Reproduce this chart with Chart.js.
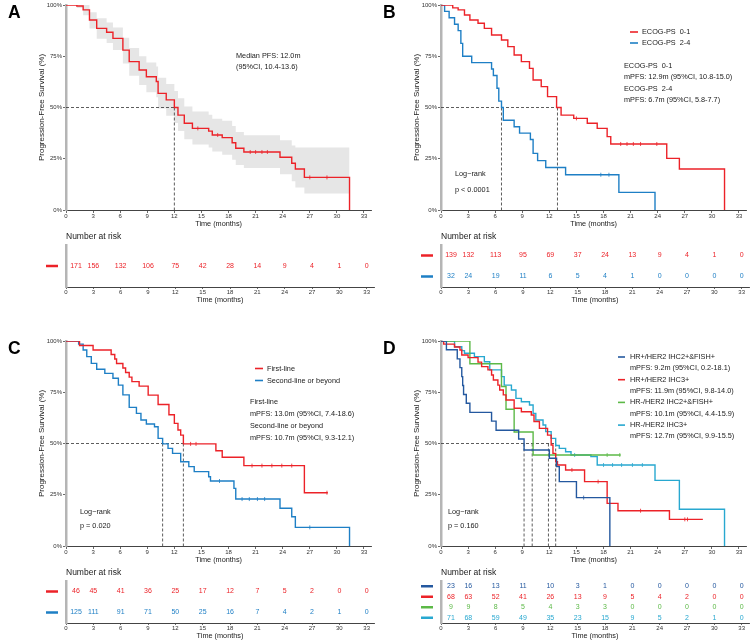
<!DOCTYPE html>
<html>
<head>
<meta charset="utf-8">
<script src="https://cdn.jsdelivr.net/npm/chart.js@4.4.1/dist/chart.umd.min.js"></script>
<style>
body { margin: 0; background: #fff; }
#page { position: relative; width: 753px; height: 642px; overflow: hidden; }
canvas { position: absolute; }
</style>
</head>
<body>
<div id="page"></div>
<script>
const TIME_TICKS = [0, 3, 6, 9, 12, 15, 18, 21, 24, 27, 30, 33];
const PCT_TICKS = [0, 25, 50, 75, 100];
const RISK_TITLE = 'Number at risk';

const RED = '#ec2228', BLUE = '#1e7fc5', NAVY = '#24589f', GREEN = '#5cb947', CYAN = '#28a8d0';

// ---- panel A: whole cohort
const timeA = [0, 1.2, 1.9, 2.6, 3.4, 4.5, 5.2, 6.3, 7.0, 8.1, 8.9, 10.0, 10.2, 11.1, 12.0, 12.4, 13.1, 14.0, 15.8, 16.2, 17.3, 18.4, 18.8, 19.7, 23.7, 25.0, 25.4, 26.4, 31.4];
const survA = [100, 99.5, 97.6, 92.7, 88.6, 86.7, 83.7, 78.0, 72.4, 68.3, 65.0, 62.7, 56.9, 53.7, 50.0, 46.3, 42.3, 39.8, 38.5, 36.6, 35.3, 32.8, 30.1, 28.3, 25.7, 22.8, 20.0, 15.9, 0];
const upperA = [100, 100, 100, 96.5, 93.5, 91.5, 89, 84, 79, 75, 72, 70, 64.5, 61.5, 58, 54.5, 50.5, 48, 46.5, 44.5, 43.5, 41, 38, 36.5, 34, 31.5, 30.5, 30.5, 30.5];
const lowerA = [100, 98.5, 95, 88.5, 83.5, 81.5, 78, 71.5, 65.5, 61, 57.5, 55, 49.5, 46, 42.5, 38.5, 34.5, 32, 30.5, 28.5, 27, 24.5, 22, 20.5, 17.5, 14, 11, 8, 8];
const censA = [14.6, 16.8, 20.4, 21.0, 21.7, 22.3, 27.0, 28.9];
const riskA = [171, 156, 132, 106, 75, 42, 28, 14, 9, 4, 1, 0];
const medianA = [12.0];
const notesA = ['Median PFS: 12.0m', '(95%CI, 10.4-13.6)'];

// ---- panel B: ECOG-PS
const timeB1 = [0, 1.3, 1.9, 2.6, 3.2, 4.1, 4.8, 5.6, 6.7, 7.4, 8.1, 8.9, 9.8, 10.2, 11.1, 11.8, 12.8, 13.3, 14.7, 16.2, 17.3, 18.4, 18.8, 25.0, 26.4, 31.4];
const survB1 = [100, 98.6, 97.6, 95.1, 92.7, 91.1, 88.6, 85.4, 82.9, 79.7, 75.6, 72.4, 69.1, 63.4, 60.2, 55.3, 50.0, 46.3, 44.7, 42.3, 39.8, 35.8, 32.2, 25.2, 20.0, 0];
const censB1 = [15.0, 19.9, 20.6, 21.3, 22.1, 23.9];
const timeB2 = [0, 0.4, 0.9, 1.5, 1.9, 2.2, 2.4, 3.4, 5.6, 5.8, 6.2, 6.4, 6.7, 6.9, 8.1, 8.7, 9.9, 10.2, 10.7, 11.6, 13.8, 19.7, 23.7];
const survB2 = [100, 96.9, 93.8, 90.6, 87.5, 81.3, 75.0, 71.9, 68.8, 65.6, 59.4, 53.1, 50.0, 43.8, 40.6, 37.5, 34.4, 27.6, 24.1, 20.7, 17.2, 8.6, 0];
const censB2 = [17.7, 18.6];
const riskB1 = [139, 132, 113, 95, 69, 37, 24, 13, 9, 4, 1, 0];
const riskB2 = [32, 24, 19, 11, 6, 5, 4, 1, 0, 0, 0, 0];
const medianB = [6.7, 12.9];
const groupsB = ['ECOG-PS  0-1', 'ECOG-PS  2-4'];
const notesB = ['ECOG-PS  0-1', 'mPFS: 12.9m (95%CI, 10.8-15.0)', 'ECOG-PS  2-4', 'mPFS: 6.7m (95%CI, 5.8-7.7)'];
const testB = ['Log\u2212rank', 'p < 0.0001'];

// ---- panel C: line of therapy
const timeC1 = [0, 1.5, 3.0, 5.0, 5.4, 5.6, 6.3, 6.6, 7.0, 7.3, 8.1, 9.1, 10.2, 11.4, 12.0, 12.4, 12.7, 13.0, 16.6, 17.3, 19.7, 26.4, 29.0];
const survC1 = [100, 97.8, 95.6, 93.4, 91.2, 89.0, 86.8, 84.6, 82.4, 80.2, 78.0, 73.6, 69.0, 64.0, 59.8, 56.6, 54.1, 49.8, 46.5, 43.3, 39.2, 26.0, 26.0];
const censC1 = [13.8, 14.4, 20.6, 21.7, 22.8, 23.9, 25.0, 28.9];
const timeC2 = [0, 1.4, 1.9, 2.3, 2.8, 3.4, 4.3, 5.2, 5.8, 6.3, 7.0, 7.8, 8.3, 8.9, 9.8, 10.2, 10.7, 11.3, 11.8, 12.7, 13.6, 14.2, 15.8, 16.0, 18.6, 18.8, 23.7, 25.0, 25.4, 31.4];
const survC2 = [100, 98.5, 95.6, 92.4, 89.1, 86.2, 84.2, 81.8, 78.5, 73.7, 67.6, 64.7, 61.5, 59.5, 58.2, 52.5, 49.8, 47.6, 45.2, 41.1, 38.7, 36.3, 33.8, 31.7, 28.1, 22.9, 18.4, 14.3, 9.1, 0];
const censC2 = [17.0, 19.5, 20.3, 21.2, 22.0, 27.0];
const riskC1 = [46, 45, 41, 36, 25, 17, 12, 7, 5, 2, 0, 0];
const riskC2 = [125, 111, 91, 71, 50, 25, 16, 7, 4, 2, 1, 0];
const medianC = [10.7, 13.0];
const groupsC = ['First-line', 'Second-line or beyond'];
const notesC = ['First-line', 'mPFS: 13.0m (95%CI, 7.4-18.6)', 'Second-line or beyond', 'mPFS: 10.7m (95%CI, 9.3-12.1)'];
const testC = ['Log\u2212rank', 'p = 0.020'];

// ---- panel D: HR / HER2 subtypes
const timeD1 = [0, 0.6, 1.8, 2.1, 2.3, 2.4, 2.5, 2.8, 3.2, 5.6, 6.1, 8.6, 9.2, 12.0, 12.8, 13.1, 15.0, 18.7];
const survD1 = [100, 95.7, 91.3, 87.0, 82.6, 78.3, 73.9, 69.6, 65.2, 60.9, 56.5, 52.2, 46.8, 42.8, 38.7, 31.4, 23.6, 0];
const censD1 = [15.8];
const timeD2 = [0, 0.3, 1.5, 2.1, 2.3, 3.0, 4.1, 4.5, 5.2, 5.6, 5.8, 6.3, 6.5, 6.9, 7.2, 8.1, 8.9, 10.0, 10.3, 10.9, 11.8, 12.2, 12.4, 12.7, 12.9, 13.8, 15.9, 18.4, 19.6, 25.3, 29.0];
const survD2 = [100, 98.5, 97.1, 95.6, 93.2, 91.9, 89.7, 87.5, 85.9, 83.4, 81.0, 78.5, 76.1, 73.7, 71.2, 67.2, 65.5, 63.9, 60.7, 57.4, 54.1, 49.3, 45.2, 41.1, 39.5, 37.1, 31.4, 20.8, 17.2, 13.0, 13.0];
const censD2 = [14.5, 17.4, 22.1, 27.0, 27.3];
const timeD3 = [0, 3.2, 6.7, 7.2, 8.1, 10.2, 19.9];
const survD3 = [100, 88.9, 77.8, 66.7, 55.6, 44.4, 44.4];
const censD3 = [18.4, 19.8];
const timeD4 = [0, 1.5, 2.3, 2.6, 3.7, 4.8, 5.4, 6.7, 7.0, 7.8, 8.3, 8.9, 9.8, 10.2, 10.5, 11.3, 11.6, 12.2, 12.7, 13.1, 13.8, 14.4, 16.6, 17.3, 23.7, 26.4, 31.4];
const survD4 = [100, 97.2, 95.3, 94.0, 92.4, 89.9, 85.9, 82.6, 78.5, 76.1, 72.0, 70.4, 68.8, 64.7, 61.5, 59.0, 55.8, 52.5, 49.0, 47.6, 46.0, 44.4, 43.6, 39.5, 32.0, 17.9, 0];
const censD4 = [14.8, 18.0, 19.0, 20.0, 21.2, 22.3];
const riskD1 = [23, 16, 13, 11, 10, 3, 1, 0, 0, 0, 0, 0];
const riskD2 = [68, 63, 52, 41, 26, 13, 9, 5, 4, 2, 0, 0];
const riskD3 = [9, 9, 8, 5, 4, 3, 3, 0, 0, 0, 0, 0];
const riskD4 = [71, 68, 59, 49, 35, 23, 15, 9, 5, 2, 1, 0];
const medianD = [9.2, 10.1, 11.9, 12.7];
const legendD = ['HR+/HER2 IHC2+&FISH+', 'mPFS: 9.2m (95%CI, 0.2-18.1)', 'HR+/HER2 IHC3+', 'mPFS: 11.9m (95%CI, 9.8-14.0)',
                 'HR-/HER2 IHC2+&FISH+', 'mPFS: 10.1m (95%CI, 4.4-15.9)', 'HR-/HER2 IHC3+', 'mPFS: 12.7m (95%CI, 9.9-15.5)'];
const testD = ['Log\u2212rank', 'p = 0.160'];

const FONT = '"Liberation Sans", Arial, sans-serif';
Chart.defaults.font.family = FONT;
const page = document.getElementById('page');

function addCanvas(x, y, w, h) {
    const c = document.createElement('canvas');
    c.width = w; c.height = h;
    c.style.left = x + 'px'; c.style.top = y + 'px';
    c.style.width = w + 'px'; c.style.height = h + 'px';
    page.appendChild(c);
    return c;
}

function survAt(c, t) {
    let v = c.s[0];
    c.t.forEach((tt, i) => { if (tt <= t) v = c.s[i]; });
    return v;
}

// free text, legend keys and panel letter
const textLayer = {
    id: 'textLayer',
    afterDraw(chart, args, opts) {
        const ctx = chart.ctx;
        ctx.save();
        (opts.keys || []).forEach(k => {
            ctx.strokeStyle = k.color; ctx.lineWidth = 1.6;
            ctx.beginPath(); ctx.moveTo(k.x1, k.y); ctx.lineTo(k.x2, k.y); ctx.stroke();
        });
        (opts.lines || []).forEach(l => {
            ctx.font = (l.bold ? 'bold ' : '') + (l.size || 7.3) + 'px ' + FONT;
            ctx.fillStyle = l.color || '#1a1a1a';
            ctx.textAlign = 'left';
            ctx.textBaseline = l.base || 'middle';
            ctx.fillText(l.text, l.x, l.y);
        });
        ctx.restore();
    }
};

// numbers at risk drawn on the points of the risk chart
const riskText = {
    id: 'riskText',
    afterDraw(chart) {
        const { ctx, chartArea } = chart;
        ctx.save();
        ctx.font = '8.5px ' + FONT;
        ctx.fillStyle = '#1a1a1a';
        ctx.textAlign = 'left'; ctx.textBaseline = 'middle';
        ctx.fillText(RISK_TITLE, chartArea.left, chartArea.top - 8);
        chart.data.datasets.forEach((d, i) => {
            const meta = chart.getDatasetMeta(i);
            const y = meta.data[0].y;
            ctx.strokeStyle = d.color; ctx.lineWidth = 2.5;
            ctx.beginPath(); ctx.moveTo(chartArea.left - 20, y); ctx.lineTo(chartArea.left - 8, y); ctx.stroke();
            ctx.font = '7px ' + FONT;
            ctx.fillStyle = d.color;
            ctx.textAlign = 'center';
            meta.data.forEach((el, j) => {
                const x = Math.max(el.x, chartArea.left + 10);
                ctx.fillText(String(d.counts[j]), x, el.y);
            });
        });
        ctx.restore();
    }
};

function xAxis(h, tickLen, pad) {
    return {
        type: 'linear', min: 0, max: 33.8,
        afterBuildTicks: s => { s.ticks = TIME_TICKS.map(v => ({ value: v })); },
        afterFit: s => { s.height = h; },
        grid: { display: true, drawOnChartArea: false, drawTicks: true, tickLength: tickLen, color: '#444', lineWidth: 0.8 },
        border: { display: true, color: '#444', width: 1 },
        ticks: { font: { size: 6 }, color: '#333', padding: pad, maxRotation: 0, autoSkip: false },
        title: { display: true, text: 'Time (months)', font: { size: 7.3 }, color: '#1a1a1a', padding: 0 }
    };
}

function drawKM(p) {
    const cv = addCanvas(p.left, p.top, 376, 228);
    const ds = [];
    p.curves.forEach(c => {
        ds.push({ data: c.t.map((t, i) => ({ x: t, y: c.s[i] })), borderColor: c.color, borderWidth: 1.4,
                  stepped: true, pointRadius: 0, fill: false, order: 0 });
        ds.push({ data: c.cens.map(t => ({ x: t, y: survAt(c, t) })), showLine: false, pointStyle: 'line',
                  rotation: 90, pointRadius: 2, borderColor: c.color, pointBorderColor: c.color,
                  pointBorderWidth: 0.8, fill: false, order: 0 });
    });
    const last = Math.max(...p.medians);
    const dash = { borderColor: '#333', borderWidth: 0.8, borderDash: [3, 2], pointRadius: 0, fill: false, order: 1 };
    ds.push(Object.assign({ data: [{ x: 0, y: 50 }, { x: last, y: 50 }] }, dash));
    p.medians.forEach(m => ds.push(Object.assign({ data: [{ x: m, y: 50 }, { x: m, y: 0 }] }, dash)));
    if (p.band) {
        ds.push({ data: p.band.t.map((t, i) => ({ x: t, y: p.band.up[i] })), stepped: true, borderWidth: 0,
                  borderColor: 'rgba(0,0,0,0)', pointRadius: 0, backgroundColor: '#e6e6e6', fill: '+1', order: 2 });
        ds.push({ data: p.band.t.map((t, i) => ({ x: t, y: p.band.lo[i] })), stepped: true, borderWidth: 0,
                  borderColor: 'rgba(0,0,0,0)', pointRadius: 0, fill: false, order: 2 });
    }
    new Chart(cv, {
        type: 'line',
        data: { datasets: ds },
        options: {
            responsive: false, animation: false,
            layout: { padding: { left: 37, top: 5, right: 2, bottom: 0 } },
            scales: {
                x: xAxis(18, 3, 0),
                y: {
                    min: 0, max: 100,
                    afterBuildTicks: s => { s.ticks = PCT_TICKS.map(v => ({ value: v })); },
                    afterFit: s => { s.width = 29; },
                    grid: { display: true, drawOnChartArea: false, tickLength: 3, color: '#444', lineWidth: 0.8 },
                    border: { display: true, color: '#b5b5b5', width: 2.5 },
                    ticks: { font: { size: 6 }, color: '#333', padding: 1, callback: v => v + '%' },
                    title: { display: true, text: 'Progression-Free Survival (%)', font: { size: 8 }, color: '#1a1a1a', padding: 0 }
                }
            },
            plugins: { legend: { display: false }, tooltip: { enabled: false }, textLayer: p.text }
        },
        plugins: [textLayer]
    });
}

function drawRisk(p) {
    const cv = addCanvas(p.left, p.top + 228, 376, 76);
    const rows = p.risk.length;
    const ds = p.risk.map((r, i) => ({
        data: TIME_TICKS.map(t => ({ x: t, y: i })), counts: r.n, color: r.color,
        showLine: false, pointRadius: 0
    }));
    new Chart(cv, {
        type: 'line',
        data: { datasets: ds },
        options: {
            responsive: false, animation: false,
            layout: { padding: { left: 46, top: 17, right: 2, bottom: 0 } },
            scales: {
                x: xAxis(17, 2, 0),
                y: {
                    type: 'linear', min: -0.5, max: rows - 0.5, reverse: true,
                    afterFit: s => { s.width = 20; },
                    ticks: { display: false }, grid: { display: false },
                    border: { display: true, color: '#b5b5b5', width: 2.5 }
                }
            },
            plugins: { legend: { display: false }, tooltip: { enabled: false } }
        },
        plugins: [riskText]
    });
}

function letter(ch) { return { text: ch, x: 8, y: 18, size: 17.5, bold: true, base: 'alphabetic', color: '#000' }; }
function block(lines, x, y0, step) { return lines.map((t, i) => ({ text: t, x: x, y: y0 + i * step })); }

const panels = [
    {
        left: 0, top: 0,
        curves: [{ t: timeA, s: survA, cens: censA, color: RED }],
        band: { t: timeA, up: upperA, lo: lowerA },
        medians: medianA,
        risk: [{ n: riskA, color: RED }],
        text: { lines: [letter('A')].concat(block(notesA, 236, 56, 11)) }
    },
    {
        left: 375, top: 0,
        curves: [{ t: timeB1, s: survB1, cens: censB1, color: RED }, { t: timeB2, s: survB2, cens: censB2, color: BLUE }],
        medians: medianB,
        risk: [{ n: riskB1, color: RED }, { n: riskB2, color: BLUE }],
        text: {
            keys: [{ x1: 255, x2: 263, y: 32, color: RED }, { x1: 255, x2: 263, y: 43, color: BLUE }],
            lines: [letter('B')].concat(block(groupsB, 267, 32, 11), block(notesB, 249, 66, 11.4), block(testB, 80, 174, 16))
        }
    },
    {
        left: 0, top: 336,
        curves: [{ t: timeC1, s: survC1, cens: censC1, color: RED }, { t: timeC2, s: survC2, cens: censC2, color: BLUE }],
        medians: medianC,
        risk: [{ n: riskC1, color: RED }, { n: riskC2, color: BLUE }],
        text: {
            keys: [{ x1: 255, x2: 263, y: 32.5, color: RED }, { x1: 255, x2: 263, y: 44.5, color: BLUE }],
            lines: [letter('C')].concat(block(groupsC, 267, 32.5, 12), block(notesC, 250, 66, 12), block(testC, 80, 176, 14))
        }
    },
    {
        left: 375, top: 336,
        curves: [{ t: timeD1, s: survD1, cens: censD1, color: NAVY }, { t: timeD2, s: survD2, cens: censD2, color: RED },
                 { t: timeD3, s: survD3, cens: censD3, color: GREEN }, { t: timeD4, s: survD4, cens: censD4, color: CYAN }],
        medians: medianD,
        risk: [{ n: riskD1, color: NAVY }, { n: riskD2, color: RED }, { n: riskD3, color: GREEN }, { n: riskD4, color: CYAN }],
        text: {
            keys: [{ x1: 243, x2: 250, y: 21, color: NAVY }, { x1: 243, x2: 250, y: 43.7, color: RED },
                   { x1: 243, x2: 250, y: 66.4, color: GREEN }, { x1: 243, x2: 250, y: 89.1, color: CYAN }],
            lines: [letter('D')].concat(block(legendD, 255, 21, 11.35), block(testD, 73, 176, 14))
        }
    }
];

panels.forEach(p => { drawKM(p); drawRisk(p); });
</script>
</body>
</html>
